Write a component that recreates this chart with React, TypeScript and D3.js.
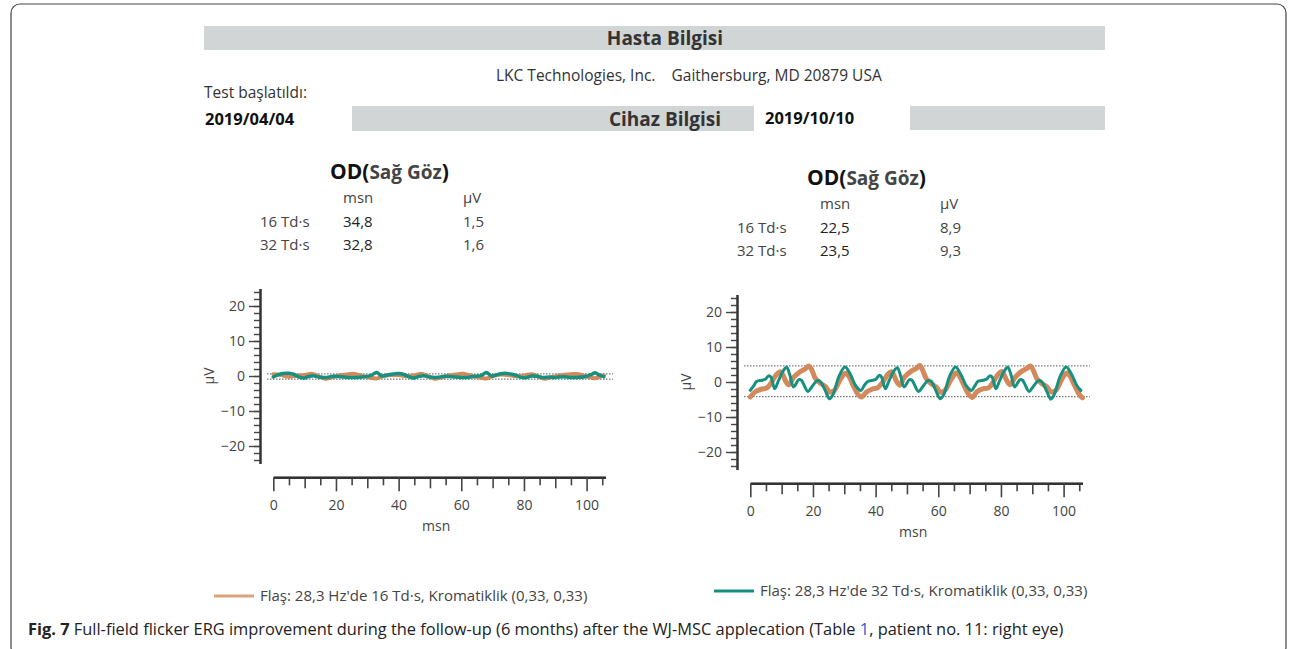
import * as d3 from 'd3'
import { useEffect, useRef } from 'react'

const FONT = '"Open Sans", "Noto Sans", sans-serif'
const ORANGE = '#d2895c'
const TEAL = '#17907f'

// header texts
const headerTitles = ['Hasta Bilgisi', 'Cihaz Bilgisi']
const companyLine = 'LKC Technologies, Inc.    Gaithersburg, MD 20879 USA'
const testLabel = 'Test başlatıldı:'
const testDates = ['2019/04/04', '2019/10/10']

// result tables
const eyeTitle = ['OD(', 'Sağ Göz', ')']
const tableHeads = ['msn', 'μV']
const intensities = ['16 Td·s', '32 Td·s']
const leftLatency = ['34,8', '32,8']
const leftAmplitude = ['1,5', '1,6']
const rightLatency = ['22,5', '23,5']
const rightAmplitude = ['8,9', '9,3']

// axes
const yMajorTicks = [-20, -10, 0, 10, 20]
const xMajorTicks = [0, 20, 40, 60, 80, 100]
const xMidTicks = [10, 30, 50, 70, 90]
const xMinorTicks = [5, 15, 25, 35, 45, 55, 65, 75, 85, 95, 105]

// dotted amplitude limits (µV)
const leftLimits = [0.6, -0.9]
const rightLimits = [4.6, -4.2]

// waveforms [msn, µV]
const leftOrange: [number, number][] = [
  [0, 0.5], [2.5, 0.3], [5, -0.2], [7.5, 0.1], [10, 0.3], [12.5, 0.6], [15, -0.3], [16.5, -0.8], [19, -0.3], [21.5, 0.2],
  [24, 0.5], [26, 0.6], [28.5, 0.0], [31, -0.5], [33, -0.7], [35.5, 0.1], [38, 0.3], [40.5, 0.2], [43, -0.1], [45.5, 0.3],
  [47.5, 0.6], [50, -0.3], [51.5, -0.8], [54, -0.3], [56.5, 0.2], [59, 0.5], [61, 0.6], [63.5, 0.0], [66, -0.5], [68, -0.7],
  [70.5, 0.1], [73, 0.4], [75.5, 0.2], [78, -0.1], [80.5, 0.2], [82.5, 0.5], [85, -0.3], [86.5, -0.8], [89, -0.3], [91.5, 0.2],
  [94, 0.4], [96.5, 0.6], [98.5, 0.3], [101, -0.4], [103, -0.6], [105.5, 0.2],
]
const leftTeal: [number, number][] = [
  [0, -0.3], [1.5, 0.3], [3, 0.7], [5, 0.8], [6.5, 0.5], [8, -0.2], [9.6, -0.6], [11, -0.2], [12.8, 0.1], [14.5, -0.3],
  [17, -0.4], [19, -0.1], [21.3, -0.2], [24, -0.4], [26.6, -0.4], [29, -0.2], [31, 0.1], [33, 1.0], [34.6, 0.0], [36.5, 0.3],
  [38.3, 0.6], [40, 0.7], [41.5, 0.5], [43, -0.1], [44.7, -0.6], [46.5, -0.1], [48, 0.1], [50, -0.3], [52, -0.4], [55, -0.1],
  [57, -0.2], [60, -0.4], [62, -0.4], [64.5, -0.1], [66.5, 0.2], [68, 1.0], [69.7, 0.0], [71.5, 0.4], [74, 0.8], [75.5, 0.6],
  [77.5, 0.2], [79, -0.4], [80.5, -0.5], [82.5, 0.0], [84, -0.1], [86, -0.4], [88, -0.3], [90, -0.4], [92.5, -0.2], [94.7, -0.4],
  [97, -0.4], [99.5, -0.2], [101.5, 0.4], [102.7, 0.9], [104, 0.3], [105.5, -0.2],
]
const rightOrange: [number, number][] = [
  [0, -4.3], [1.6, -2.8], [3.7, -2.0], [5.3, -1.7], [6.9, 0.1], [8.5, 2.3], [9.6, 2.9], [10.4, 2.0], [11.3, 0.2], [12.3, -0.8],
  [13.8, 1.3], [16, 3.0], [17.6, 3.8], [18.7, 4.6], [19.6, 3.5], [20.8, 1.0], [22.4, -0.4], [24, -1.3], [25.3, -2.8], [26.7, -2.5],
  [28.8, 0.8], [30.3, 2.5], [31.5, 1.6], [32.6, -0.5], [34.6, -3.8], [35.6, -4.3],
  [37, -2.9], [39, -2.0], [40.7, -1.6], [42.3, 0.0], [43.9, 2.2], [45, 2.9], [45.8, 2.0], [46.7, 0.1], [47.7, -0.9],
  [49.2, 1.4], [51.4, 3.1], [53, 3.9], [54.1, 4.7], [55, 3.4], [56.2, 0.9], [57.8, -0.5], [59.4, -1.5], [60.7, -2.9], [62.1, -2.4],
  [64.2, 0.9], [65.7, 2.6], [66.9, 1.5], [68, -0.6], [70, -3.9], [70.9, -4.4],
  [72.3, -2.8], [74.4, -1.9], [76, -1.7], [77.6, 0.1], [79.2, 2.3], [80.3, 3.0], [81.1, 1.9], [82, 0.2], [83, -0.8],
  [84.5, 1.3], [86.7, 3.1], [88.3, 3.9], [89.4, 4.6], [90.3, 3.4], [91.5, 0.9], [93.1, -0.5], [94.7, -1.4], [96, -2.8], [97.4, -2.5],
  [99.5, 0.9], [101, 2.6], [102.2, 1.5], [103.3, -0.6], [105.2, -3.8], [106, -4.5],
]
const rightTeal: [number, number][] = [
  [0, -2.4], [1, -1.2], [2.1, 0.2], [3.7, 0.5], [4.8, 0.8], [5.9, 1.8], [6.6, 1.4], [7.8, -1.9], [9, 0.4], [10.5, 3.2],
  [11.6, 4.2], [12.6, 2.1], [13.8, -1.4], [15.5, 0.7], [16.3, 0.5], [18.4, -2.7], [19.6, -1.4], [21.4, 0.4], [22.4, 0.1], [24, -2.6],
  [25.3, -4.8], [26.5, -3.4], [28.3, 1.6], [30.2, 4.3], [32, 2.1], [33.6, -1.0], [35.3, -2.4],
  [36.3, -1.1], [37.4, 0.1], [39, 0.5], [40.1, 0.8], [41.2, 1.9], [41.9, 1.4], [43.1, -1.9], [44.3, 0.4], [45.8, 3.1],
  [46.9, 4.1], [47.9, 2.0], [49.1, -1.4], [50.8, 0.7], [51.6, 0.5], [53.7, -2.7], [54.9, -1.5], [56.7, 0.4], [57.7, 0.2], [59.3, -2.6],
  [60.6, -4.8], [61.8, -3.5], [63.6, 1.6], [65.5, 4.3], [67.3, 2.0], [68.9, -1.0], [70.6, -2.4],
  [71.6, -1.2], [72.7, 0.2], [74.3, 0.5], [75.4, 0.8], [76.5, 1.8], [77.2, 1.4], [78.4, -1.9], [79.6, 0.4], [81.1, 3.2],
  [82.2, 4.2], [83.2, 2.1], [84.4, -1.4], [86.1, 0.7], [86.9, 0.5], [89, -2.7], [90.2, -1.4], [92, 0.4], [93, 0.1], [94.6, -2.6],
  [95.9, -4.9], [97.1, -3.4], [98.9, 1.6], [100.8, 4.3], [102.6, 2.1], [104.2, -1.0], [105.5, -2.4],
]

const legendLabels = [
  'Flaş: 28,3 Hz\'de 16 Td·s, Kromatiklik (0,33, 0,33)',
  'Flaş: 28,3 Hz\'de 32 Td·s, Kromatiklik (0,33, 0,33)',
]
const captionParts = ['Fig. 7', ' Full-field flicker ERG improvement during the follow-up (6 months) after the WJ-MSC applecation (Table ', '1', ', patient no. 11: right eye)']

interface PanelOpts {
  dx: number
  dy: number
  orange: [number, number][]
  teal: [number, number][]
  limits: number[]
  latency: string[]
  amplitude: string[]
}

const App = () => {
  const ref = useRef<SVGSVGElement>(null)
  useEffect(() => {
    const svg = d3.select(ref.current)
    svg.selectAll('*').remove()
    svg.append('rect').attr('x', 0).attr('y', 0).attr('width', 1292).attr('height', 649).attr('fill', '#fff')
    // frame
    svg.append('rect').attr('x', 11).attr('y', 4).attr('width', 1275).attr('height', 652).attr('rx', 9)
      .attr('fill', 'none').attr('stroke', '#444').attr('stroke-width', 1.2)

    // header bands
    const band = (x: number, y: number, w: number, h: number) => svg.append('rect')
      .attr('x', x).attr('y', y).attr('width', w).attr('height', h).attr('fill', '#d2d5d5')
    band(204, 26, 901, 24)
    band(352, 106, 402, 25)
    band(910, 106, 195, 24)
    const txt = (x: number, y: number, s: string, size: number, weight = 'normal', fill = '#333', anchor = 'start') =>
      svg.append('text').attr('x', x).attr('y', y).text(s).attr('font-family', FONT).attr('font-size', size)
        .attr('font-weight', weight).attr('fill', fill).attr('text-anchor', anchor)
    txt(665, 45, headerTitles[0], 19, 'bold', '#333', 'middle')
    txt(665, 126, headerTitles[1], 19, 'bold', '#333', 'middle')
    txt(496, 81, companyLine, 15.5, 'normal', '#333').attr('xml:space', 'preserve').style('white-space', 'pre')
    txt(204, 98, testLabel, 15.5, 'normal', '#333')
    txt(205, 125, testDates[0], 16.5, 'bold', '#111')
    txt(765, 124, testDates[1], 16.5, 'bold', '#111')

    const drawPanel = (o: PanelOpts) => {
      const g = svg.append('g').attr('transform', `translate(${o.dx},${o.dy})`)
      const ox = 273.3, oy = 376
      const x = d3.scaleLinear().domain([0, 106]).range([ox, ox + 106 * 3.133])
      const y = d3.scaleLinear().domain([-25, 25]).range([oy + 87.5, oy - 87.5])
      // table
      const title = g.append('text').attr('x', 330).attr('y', 179).attr('font-family', FONT).attr('font-weight', 'bold')
      title.append('tspan').text(eyeTitle[0]).attr('font-size', 21).attr('fill', '#111')
      title.append('tspan').text(eyeTitle[1]).attr('font-size', 19).attr('fill', '#444')
      title.append('tspan').text(eyeTitle[2]).attr('font-size', 21).attr('fill', '#111')
      const cell = (xx: number, yy: number, s: string) => g.append('text').attr('x', xx).attr('y', yy).text(s)
        .attr('font-family', FONT).attr('font-size', 15).attr('fill', '#444')
      cell(343, 203, tableHeads[0])
      cell(463, 203, tableHeads[1])
      intensities.forEach((s, i) => {
        cell(260, 227 + i * 23, s)
        cell(343, 227 + i * 23, o.latency[i]).attr('fill', '#222')
        cell(463, 227 + i * 23, o.amplitude[i])
      })
      // y axis
      const axX = ox - 13.3
      const yAxisMinor = d3.axisLeft(y).tickValues(d3.range(-24, 25, 2)).tickSize(6).tickSizeOuter(0).tickFormat(() => '')
      const yAxisMajor = d3.axisLeft(y).tickValues(yMajorTicks).tickSize(11).tickSizeOuter(0).tickPadding(4)
      const ga = g.append('g').attr('transform', `translate(${axX},0)`)
      ga.append('g').call(yAxisMinor)
      ga.append('g').call(yAxisMajor)
      ga.selectAll('path.domain').attr('stroke', '#333').attr('stroke-width', 2)
      ga.selectAll('line').attr('stroke', '#444').attr('stroke-width', 1.4)
      ga.selectAll('text').attr('font-family', FONT).attr('font-size', 14).attr('fill', '#444')
      g.append('text').attr('transform', `translate(${ox - 64},${oy}) rotate(-90)`).attr('text-anchor', 'middle')
        .attr('dy', '0.35em').text('μV').attr('font-family', FONT).attr('font-size', 14).attr('fill', '#444')
      // x axis
      const axY = oy + 101.3
      const gx = g.append('g').attr('transform', `translate(0,${axY})`)
      gx.append('g').call(d3.axisBottom(x).tickValues(xMinorTicks).tickSize(8).tickSizeOuter(0).tickFormat(() => ''))
      gx.append('g').call(d3.axisBottom(x).tickValues(xMidTicks).tickSize(11).tickSizeOuter(0).tickFormat(() => ''))
      gx.append('g').call(d3.axisBottom(x).tickValues(xMajorTicks).tickSize(14).tickSizeOuter(0).tickPadding(9))
      gx.selectAll('path.domain').attr('stroke', '#333').attr('stroke-width', 2)
      gx.selectAll('line').attr('stroke', '#444').attr('stroke-width', 1.6)
      gx.selectAll('text').attr('font-family', FONT).attr('font-size', 14).attr('fill', '#444')
      g.append('text').attr('x', x(52)).attr('y', axY + 54).attr('text-anchor', 'middle').text('msn')
        .attr('font-family', FONT).attr('font-size', 14).attr('fill', '#444')
      // dotted limits
      g.selectAll('.lim').data(o.limits).enter().append('line').attr('class', 'lim')
        .attr('x1', x(-2)).attr('x2', x(108.4)).attr('y1', d => y(d)).attr('y2', d => y(d))
        .attr('stroke', '#555').attr('stroke-width', 1).attr('stroke-dasharray', '1.5 1.5')
      // waveforms
      const line = d3.line<[number, number]>().x(d => x(d[0])).y(d => y(d[1])).curve(d3.curveCatmullRom)
      g.append('path').attr('d', line(o.orange)).attr('fill', 'none').attr('stroke', ORANGE)
        .attr('stroke-width', o.dx > 0 ? 5 : 4).attr('stroke-linejoin', 'round').attr('stroke-linecap', 'round')
      g.append('path').attr('d', line(o.teal)).attr('fill', 'none').attr('stroke', TEAL)
        .attr('stroke-width', o.dx > 0 ? 3 : 3.5).attr('stroke-linejoin', 'round').attr('stroke-linecap', 'round')
    }
    drawPanel({ dx: 0, dy: 0, orange: leftOrange, teal: leftTeal, limits: leftLimits, latency: leftLatency, amplitude: leftAmplitude })
    drawPanel({ dx: 477, dy: 6, orange: rightOrange, teal: rightTeal, limits: rightLimits, latency: rightLatency, amplitude: rightAmplitude })

    // legend
    const legend = [
      { x: 214, y: 596, color: '#d9a47e' },
      { x: 714, y: 591, color: TEAL },
    ]
    legend.forEach((l, i) => {
      svg.append('line').attr('x1', l.x).attr('x2', l.x + 40).attr('y1', l.y).attr('y2', l.y)
        .attr('stroke', l.color).attr('stroke-width', 3)
      txt(l.x + 46, l.y + 5, legendLabels[i], 15, 'normal', '#444')
    })

    // caption
    const cap = svg.append('text').attr('x', 28).attr('y', 635).attr('font-family', FONT).attr('font-size', 16.4).attr('fill', '#222')
      .attr('xml:space', 'preserve').style('white-space', 'pre')
    cap.append('tspan').text(captionParts[0]).attr('font-weight', 'bold')
    cap.append('tspan').text(captionParts[1])
    cap.append('tspan').text(captionParts[2]).attr('fill', '#1b5fd0')
    cap.append('tspan').text(captionParts[3])
  }, [])
  return (
    <svg ref={ref} width={1292} height={649} style={{ position: 'absolute', left: 0, top: 0 }} />
  )
}

export default App
